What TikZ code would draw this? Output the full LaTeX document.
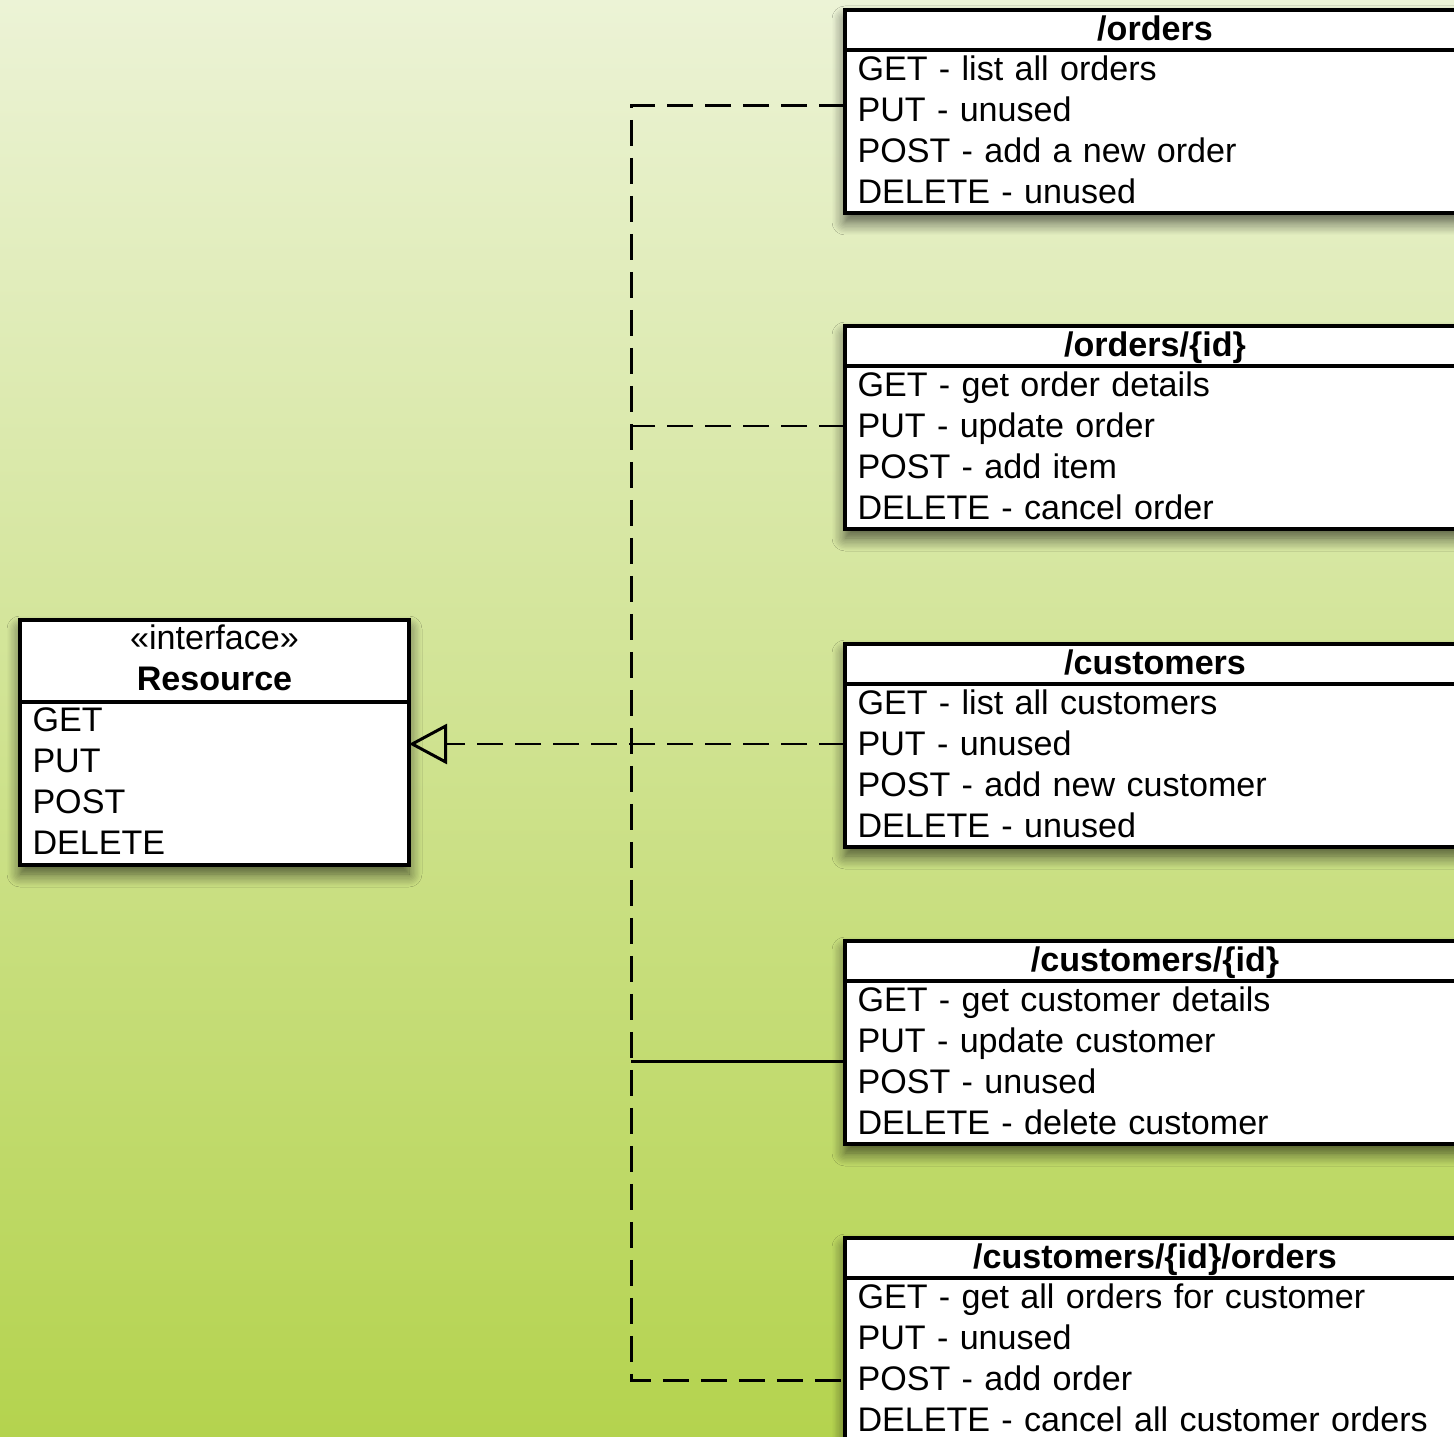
\documentclass[tikz,border=0pt]{standalone}
\usepackage{fontspec}
\setmainfont{Liberation Sans}
\usetikzlibrary{arrows.meta}
\usetikzlibrary{positioning}
\usetikzlibrary{shadows.blur}
\usetikzlibrary{backgrounds}
\tikzset{>=latex}

\definecolor{bgtop}{RGB}{236,243,214}
\definecolor{bgbot}{RGB}{180,211,78}

\tikzset{
	umlbox/.style={draw=black, line width=0.9pt, fill=white, inner xsep=1.25mm, inner ysep=0pt,
		outer sep=0pt, font=\fontsize{9.7}{11.67}\selectfont},
	head/.style={umlbox, minimum width=62mm, minimum height=4mm, font=\fontsize{9.7}{11.67}\selectfont\bfseries},
	title/.style={head, text height=7.1pt, text depth=1.3pt},
	ops/.style={umlbox, text width=59.5mm, minimum height=16.3mm, align=left,
		execute at end node={\vspace*{1.2pt}}},
	boxshadow/.style={blur shadow={shadow xshift=0mm, shadow yshift=-0.9mm, shadow blur radius=1.3mm,
		shadow blur steps=10, shadow opacity=65}},
	dep/.style={line width=0.85pt, dash pattern=on 2.6mm off 1.2mm},
	link/.style={line width=0.85pt},
}

\begin{document}
\begin{tikzpicture}[x=0.1mm, y=-0.1mm]
	\useasboundingbox (0,0) rectangle (1454,1437);
	\clip (0,0) rectangle (1454,1437);

	% the interface
	\node[head, anchor=north west, minimum width=38.9mm, minimum height=8.2mm, text width=36.4mm, align=center,
		font=\fontsize{9.7}{11.67}\selectfont, execute at end node={\vspace*{1.7pt}}] (res) at (20,620)
		{«interface»\\\textbf{Resource}};
	\node[ops, text width=36.4mm, below=0pt of res] (res-b) {GET\\PUT\\POST\\DELETE};

	% the resources
	\node[title, anchor=north west] (ord) at (845,10) {/orders};
	\node[ops, below=0pt of ord] (ord-b) {GET - list all orders\\PUT - unused\\POST - add a new order\\DELETE - unused};

	\node[title, anchor=north west] (oid) at (845,326) {/orders/\{id\}};
	\node[ops, below=0pt of oid] (oid-b) {GET - get order details\\PUT - update order\\POST - add item\\DELETE - cancel order};

	\node[title, anchor=north west] (cus) at (845,644) {/customers};
	\node[ops, below=0pt of cus] (cus-b) {GET - list all customers\\PUT - unused\\POST - add new customer\\DELETE - unused};

	\node[title, anchor=north west] (cid) at (845,941) {/customers/\{id\}};
	\node[ops, below=0pt of cid] (cid-b) {GET - get customer details\\PUT - update customer\\POST - unused\\DELETE - delete customer};

	\node[title, anchor=north west] (cio) at (845,1238) {/customers/\{id\}/orders};
	\node[ops, below=0pt of cio] (cio-b) {GET - get all orders for customer\\PUT - unused\\POST - add order\\DELETE - cancel all customer orders};

	% gradient and drop shadows behind the boxes
	\begin{scope}[on background layer]
		\shade[top color=bgtop, bottom color=bgbot] (0,0) rectangle (1454,1437);
		\foreach \bx in {res,ord,oid,cus,cid,cio}
			\fill[white, boxshadow] (\bx.north west) rectangle (\bx-b.south east);
	\end{scope}

	% junctions on the trunk
	\coordinate (j1) at (631,106);
	\coordinate (j2) at (631,426);
	\coordinate (j3) at (631,744);
	\coordinate (j4) at (631,1061);
	\coordinate (j5) at (631,1380);

	\draw[dep] (ord-b.west |- j1) -- (j1) -- (j5) -- (cio-b.west |- j5);
	\draw[dep] (oid-b.west |- j2) -- (j2);
	\draw[dep, -{Triangle[open, length=3.8mm, width=4mm, line width=0.85pt]}] (cus-b.west |- j3) -- (res-b.east |- j3);
	\draw[link] (cid-b.west |- j4) -- (j4);
\end{tikzpicture}
\end{document}
